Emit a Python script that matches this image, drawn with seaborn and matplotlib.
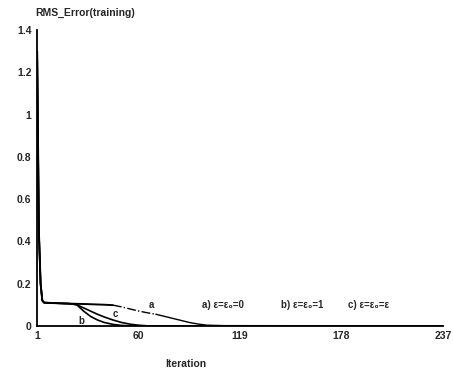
import seaborn as sns
import matplotlib.pyplot as plt

# curve values
a_x = [1, 2, 3, 4, 5, 10, 20, 30, 40, 45, 50, 55, 60, 65, 70, 75, 80, 85, 90, 95, 100, 110, 237]
a_y = [1.3, 0.45, 0.2, 0.12, 0.11, 0.108, 0.105, 0.103, 0.1, 0.098, 0.09, 0.08, 0.07, 0.062,
       0.055, 0.045, 0.035, 0.025, 0.015, 0.008, 0.003, 0.001, 0.0]
b_x = [1, 2, 3, 4, 5, 10, 20, 24, 28, 32, 36, 40, 45, 50, 55, 237]
b_y = [1.3, 0.45, 0.2, 0.12, 0.11, 0.108, 0.105, 0.1, 0.07, 0.045, 0.028, 0.016, 0.007, 0.002, 0.0, 0.0]
c_x = [1, 2, 3, 4, 5, 10, 20, 24, 28, 32, 36, 40, 45, 50, 55, 60, 65, 237]
c_y = [1.3, 0.45, 0.2, 0.12, 0.11, 0.108, 0.105, 0.1, 0.085, 0.07, 0.055, 0.042, 0.028,
       0.016, 0.008, 0.003, 0.0, 0.0]

x_ticks = [1, 60, 119, 178, 237]
y_ticks = [0, 0.2, 0.4, 0.6, 0.8, 1, 1.2, 1.4]
y_labels = ["0", "0.2", "0.4", "0.6", "0.8", "1", "1.2", "1.4"]
legend_text = ["a) ε=ε₀=0", "b) ε=ε₀=1", "c) ε=ε₀=ε"]
legend_x = [97, 143, 182]

sns.set_style("white")
plt.rcParams['font.family'] = ['Liberation Sans', 'DejaVu Sans']

fig = plt.figure(figsize=(4.53, 3.82), dpi=100)
ax = fig.add_axes([0.082, 0.147, 0.896, 0.774])

sns.lineplot(x=b_x, y=b_y, color="black", lw=1.2, ax=ax)
sns.lineplot(x=c_x, y=c_y, color="black", lw=1.2, ax=ax)
# curve a: solid, dash-dot stretch in the middle, solid again
i0, i1 = a_x.index(45), a_x.index(70)
sns.lineplot(x=a_x[:i0 + 1], y=a_y[:i0 + 1], color="black", lw=1.4, ax=ax)
sns.lineplot(x=a_x[i0:i1 + 1], y=a_y[i0:i1 + 1], color="black", lw=1.0, ls="-.", ax=ax)
sns.lineplot(x=a_x[i1:], y=a_y[i1:], color="black", lw=1.0, ax=ax)

ax.text(66, 0.085, "a", fontsize=7, fontweight="bold")
ax.text(45, 0.04, "c", fontsize=7, fontweight="bold")
ax.text(25, 0.008, "b", fontsize=7, fontweight="bold")
for t, xx in zip(legend_text, legend_x):
    ax.text(xx, 0.1, t, fontsize=7, fontweight="bold", va="center")

ax.set_xlim(1, 237)
ax.set_ylim(0, 1.4)
ax.set_xticks(x_ticks)
ax.set_xticklabels([str(v) for v in x_ticks], fontsize=7.5, fontweight="bold")
ax.set_yticks(y_ticks)
ax.set_yticklabels(y_labels, fontsize=7.5, fontweight="bold")
ax.tick_params(length=0, pad=4)
sns.despine(ax=ax)
for s in ["left", "bottom"]:
    ax.spines[s].set_color("black")
    ax.spines[s].set_linewidth(1.3)

fig.text(0.077, 0.965, "RMS_Error(training)", fontsize=7.5, fontweight="bold", va="center")
fig.text(0.41, 0.047, "Iteration", fontsize=7.5, fontweight="bold", ha="center", va="center")

fig.savefig("out.png", dpi=100)
